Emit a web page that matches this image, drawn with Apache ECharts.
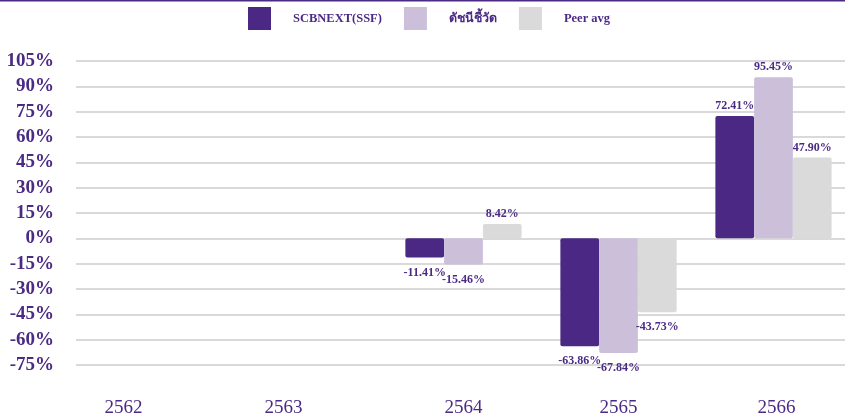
<!DOCTYPE html>
<html>
<head>
<meta charset="utf-8">
<script src="https://cdn.jsdelivr.net/npm/echarts@6/dist/echarts.min.js"></script>
<style>
  html, body { margin: 0; padding: 0; background: #fff; }
  #chart { width: 845px; height: 419px; }
</style>
</head>
<body>
<div id="chart"></div>
<script>
const years = ['2562', '2563', '2564', '2565', '2566']
const seriesNames = ['SCBNEXT(SSF)', 'ดัชนีชี้วัด', 'Peer avg']
const fundReturn = [null, null, -11.41, -63.86, 72.41]
const benchmarkReturn = [null, null, -15.46, -67.84, 95.45]
const peerReturn = [null, null, 8.42, -43.73, 47.9]
// label nudges (px) for the first two years, which sit left of their slot
const yearShift = [30, 25, 0, 0, -3]

const purple = '#4B2A85'
const colors = ['#4A2883', '#CBBFDA', '#DADADA']
const serif = '"Liberation Serif", "Times New Roman", serif'

const chart = echarts.init(document.getElementById('chart'))

function makeSeries(name, values, idx) {
  return {
    name,
    type: 'bar',
    barGap: 0,
    barCategoryGap: '25%',
    itemStyle: { color: colors[idx], borderRadius: 2 },
    label: {
      show: true,
      color: purple,
      fontFamily: serif,
      fontWeight: 'bold',
      fontSize: 12,
      formatter: (p) => p.value.toFixed(2) + '%',
    },
    data: values.map((v) =>
      v === null
        ? null
        : { value: v, label: { position: v < 0 ? 'bottom' : 'top', distance: v < 0 ? 9 : 4 } }
    ),
  }
}

const yearRich = {}
yearShift.forEach((s, i) => {
  yearRich['y' + i] = {
    fontFamily: serif,
    fontSize: 19,
    color: purple,
    padding: s >= 0 ? [0, s * 2, 0, 0] : [0, 0, 0, -s * 2],
  }
})

chart.setOption({
  animation: false,
  color: colors,
  textStyle: { fontFamily: serif },
  graphic: [
    {
      type: 'rect',
      shape: { x: 0, y: 0, width: 845, height: 1.5 },
      style: { fill: purple },
    },
  ],
  legend: {
    top: 7,
    left: 248,
    padding: 0,
    itemWidth: 23,
    itemHeight: 23,
    itemGap: 22,
    icon: 'rect',
    formatter: (name) => '{t|' + name + '}',
    textStyle: {
      rich: {
        t: {
          fontFamily: serif,
          fontWeight: 'bold',
          fontSize: 12.5,
          color: purple,
          padding: [0, 0, 0, 17],
        },
      },
    },
    data: seriesNames,
  },
  grid: {
    left: 76,
    right: -6,
    top: 61,
    bottom: 54,
    containLabel: false,
    outerBoundsMode: 'none',
  },
  xAxis: {
    type: 'category',
    data: years,
    axisLine: { show: false },
    axisTick: { show: false },
    axisLabel: {
      margin: 34,
      formatter: (v, i) => '{y' + i + '|' + v + '}',
      rich: yearRich,
    },
  },
  yAxis: {
    type: 'value',
    min: -75,
    max: 105,
    interval: 15,
    axisLine: { show: false },
    axisTick: { show: false },
    splitLine: { lineStyle: { color: '#D9D9D9', width: 2 } },
    axisLabel: {
      margin: 22,
      color: purple,
      fontFamily: serif,
      fontWeight: 'bold',
      fontSize: 19,
      formatter: '{value}%',
    },
  },
  series: [
    makeSeries(seriesNames[0], fundReturn, 0),
    makeSeries(seriesNames[1], benchmarkReturn, 1),
    makeSeries(seriesNames[2], peerReturn, 2),
  ],
})

window.addEventListener('resize', () => chart.resize())
</script>
</body>
</html>
